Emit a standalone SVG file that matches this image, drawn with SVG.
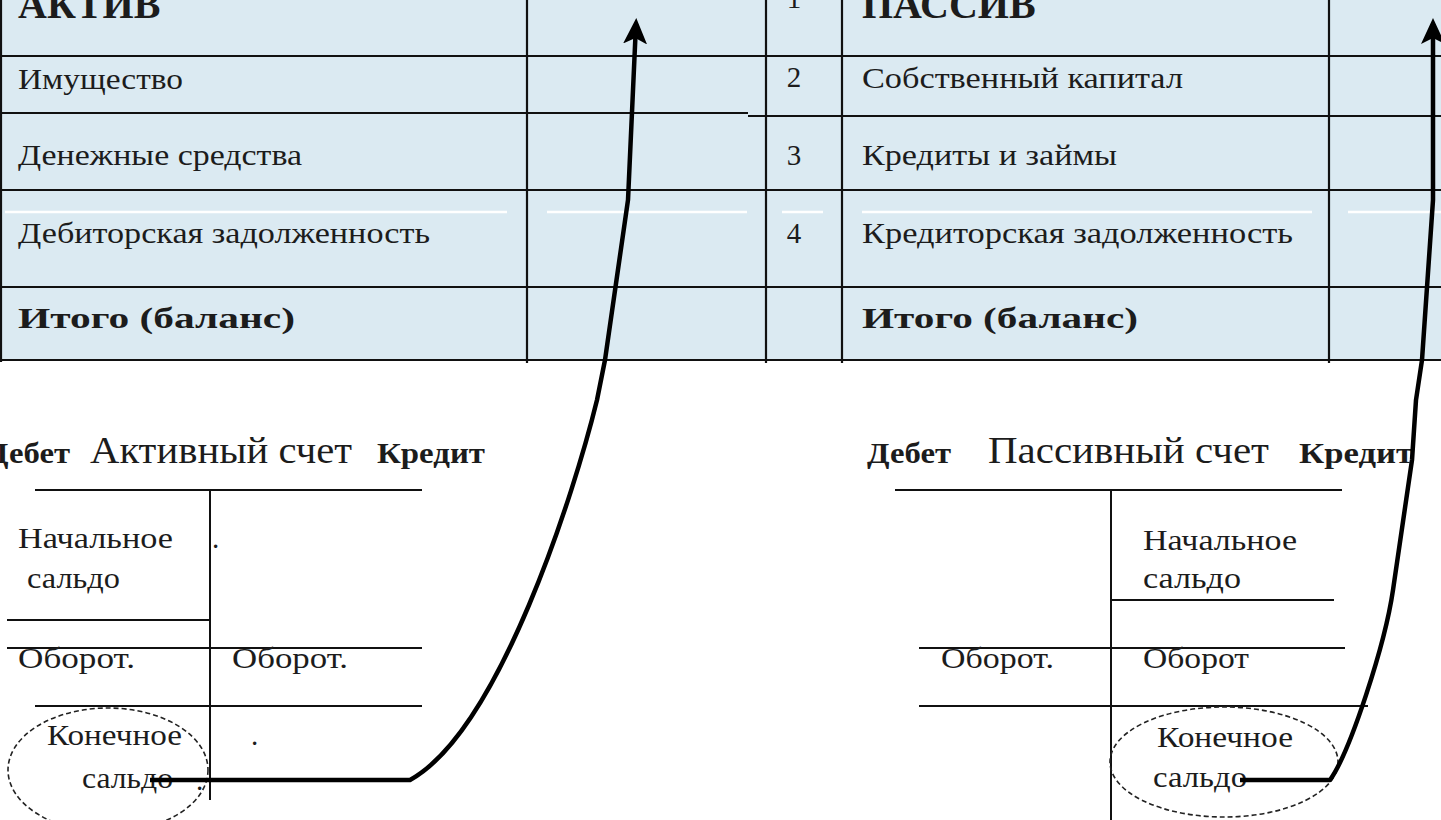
<svg xmlns="http://www.w3.org/2000/svg" width="1441" height="820" viewBox="0 0 1441 820">
<style>
.t{font-family:"Liberation Serif","Times New Roman",serif;fill:#1c1c1c;font-size:29px}
.r{font-size:30px}
.b{font-weight:bold}
.h{font-family:"Liberation Serif","Times New Roman",serif;fill:#1c1c1c;font-weight:bold;font-size:40px}
.big{font-size:38px}
.ln{stroke:#111;stroke-width:2.2;fill:none}
.thin{stroke:#111;stroke-width:2;fill:none}
.wl{stroke:#ffffff;stroke-width:2.5;fill:none}
.ell{stroke:#222;stroke-width:1.6;fill:none;stroke-dasharray:5 3}
.arr{stroke:#000;stroke-width:4.5;fill:none;stroke-linejoin:round}
</style>
<defs>
<marker id="ah" markerUnits="userSpaceOnUse" viewBox="0 0 26 24" refX="20" refY="12" markerWidth="26" markerHeight="24" orient="auto">
<path d="M0,0 L26,12 L0,24 L6,12 z" fill="#000"/>
</marker>
</defs>

<g id="balance-table">
<rect x="0" y="0" width="1441" height="361" fill="#dbeaf2"/>
<path class="wl" d="M5,212 H507 M547,212 H747 M782,212 H823 M862,212 H1312 M1348,212 H1441"/>
<path class="ln" d="M0,56 H1441 M0,113 H748 M748,116 H1441 M0,190 H1441 M0,287 H1441 M0,360 H1441"/>
<path class="ln" d="M1,0 V362 M527,0 V363 M766,0 V363 M842,0 V363 M1329,0 V363"/>
<text class="h" x="18" y="18">АКТИВ</text>
<text class="h" x="862" y="18">ПАССИВ</text>
<text class="t" x="794" y="8" text-anchor="middle" font-size="30">1</text>
<text class="t" x="794" y="87" text-anchor="middle" font-size="30">2</text>
<text class="t" x="794" y="165" text-anchor="middle" font-size="30">3</text>
<text class="t" x="794" y="243" text-anchor="middle" font-size="30">4</text>
<text class="t r" x="18" y="89" textLength="165" lengthAdjust="spacingAndGlyphs">Имущество</text>
<text class="t r" x="18" y="165" textLength="284" lengthAdjust="spacingAndGlyphs">Денежные средства</text>
<text class="t r" x="18" y="243" textLength="412" lengthAdjust="spacingAndGlyphs">Дебиторская задолженность</text>
<text class="t b" x="18" y="328" font-size="38" textLength="277" lengthAdjust="spacingAndGlyphs">Итого (баланс)</text>
<text class="t r" x="862" y="88" textLength="321" lengthAdjust="spacingAndGlyphs">Собственный капитал</text>
<text class="t r" x="862" y="165" textLength="255" lengthAdjust="spacingAndGlyphs">Кредиты и займы</text>
<text class="t r" x="862" y="243" textLength="431" lengthAdjust="spacingAndGlyphs">Кредиторская задолженность</text>
<text class="t b" x="862" y="328" font-size="38" textLength="276" lengthAdjust="spacingAndGlyphs">Итого (баланс)</text>
</g>

<g id="active-account">
<text class="t b" x="-14" y="463" textLength="84" lengthAdjust="spacingAndGlyphs">Дебет</text>
<text class="t big" x="90" y="463" textLength="262" lengthAdjust="spacingAndGlyphs">Активный счет</text>
<text class="t b" x="377" y="463" textLength="108" lengthAdjust="spacingAndGlyphs">Кредит</text>
<path class="thin" d="M35,490 H422 M210,490 V800 M7,620 H210 M7,648 H422 M35,706 H422"/>
<text class="t" x="18" y="548" textLength="155" lengthAdjust="spacingAndGlyphs">Начальное</text>
<text class="t" x="27" y="588" textLength="93" lengthAdjust="spacingAndGlyphs">сальдо</text>
<text class="t" x="212" y="548" font-size="20">.</text>
<text class="t" x="18" y="668" textLength="117" lengthAdjust="spacingAndGlyphs">Оборот.</text>
<text class="t" x="232" y="668" textLength="116" lengthAdjust="spacingAndGlyphs">Оборот.</text>
<text class="t" x="47" y="745" textLength="135" lengthAdjust="spacingAndGlyphs">Конечное</text>
<text class="t" x="82" y="788" textLength="91" lengthAdjust="spacingAndGlyphs">сальдо</text>
<text class="t" x="251" y="745" font-size="20">.</text>
<text class="t" x="196" y="790" font-size="20">.</text>
<ellipse class="ell" cx="108" cy="770" rx="100" ry="62"/>
</g>

<g id="passive-account">
<text class="t b" x="867" y="463" textLength="84" lengthAdjust="spacingAndGlyphs">Дебет</text>
<text class="t big" x="988" y="463" textLength="281" lengthAdjust="spacingAndGlyphs">Пассивный счет</text>
<text class="t b" x="1299" y="463" textLength="114" lengthAdjust="spacingAndGlyphs">Кредит</text>
<path class="thin" d="M895,490 H1342 M1111,490 V820 M1111,600 H1334 M919,648 H1345 M919,706 H1368"/>
<text class="t" x="1143" y="550" textLength="154" lengthAdjust="spacingAndGlyphs">Начальное</text>
<text class="t" x="1143" y="588" textLength="98" lengthAdjust="spacingAndGlyphs">сальдо</text>
<text class="t" x="941" y="668" textLength="113" lengthAdjust="spacingAndGlyphs">Оборот.</text>
<text class="t" x="1143" y="668" textLength="106" lengthAdjust="spacingAndGlyphs">Оборот</text>
<text class="t" x="1157" y="747" textLength="136" lengthAdjust="spacingAndGlyphs">Конечное</text>
<text class="t" x="1153" y="787" textLength="94" lengthAdjust="spacingAndGlyphs">сальдо</text>
<ellipse class="ell" cx="1224" cy="762" rx="114" ry="55"/>
</g>

<g id="connectors">
<path class="arr" marker-end="url(#ah)" d="M150,780 L410,780 C500,730 575,490 597,400 L605,360 L628,200 L636,24"/>
<path class="arr" marker-end="url(#ah)" d="M1240,780 L1330,780 C1350,752 1385,645 1393,590 L1412,460 L1416,400 L1422,360 L1433,200 L1433,24"/>
</g>
</svg>
